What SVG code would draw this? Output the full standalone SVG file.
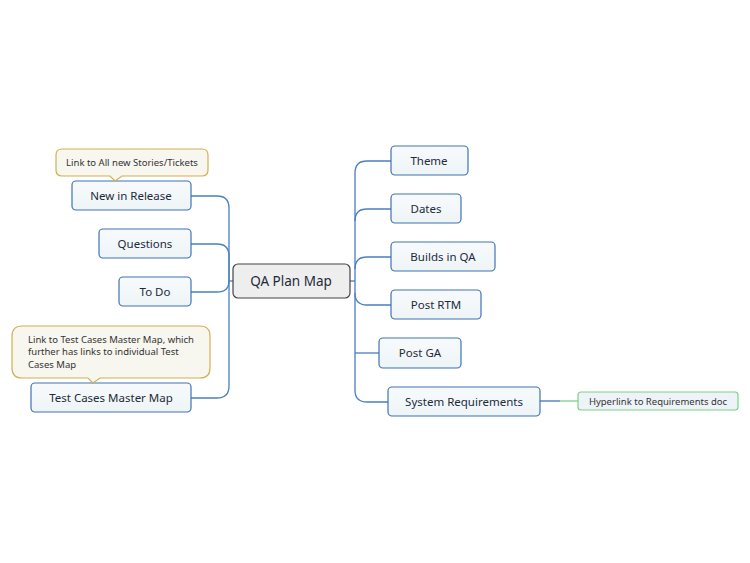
<svg xmlns="http://www.w3.org/2000/svg" width="750" height="563" viewBox="0 0 750 563">
<defs><linearGradient id="g" x1="0" y1="0" x2="0" y2="1"><stop offset="0" stop-color="#f7fafc"/><stop offset="1" stop-color="#eef5f7"/></linearGradient></defs>
<style>
.n{fill:url(#g);stroke:#3e73b5;stroke-width:1.2}
.t{font-family:"Noto Sans","Open Sans",sans-serif;font-size:11.5px;fill:#1d2a3a;text-anchor:middle}
.c{fill:none;stroke:#4a7fc0;stroke-width:1.3}
.co{fill:#f7f6ef;stroke:#d2b050;stroke-width:1.2}
.ct{font-family:"Noto Sans","Open Sans",sans-serif;font-size:9.5px;fill:#333}
</style>
<rect width="750" height="563" fill="#fff"/>
<g id="connectors">
<path class="c" d="M191 196 H217 Q229 196 229 208 V386 Q229 398 217 398 H191"/>
<path class="c" d="M191 244 H217 Q229 244 229 256 V281"/>
<path class="c" d="M191 292 H217 Q229 292 229 281"/>
<path class="c" d="M229 281 H233"/>
<path class="c" d="M391 161 H367 Q355 161 355 173 V390 Q355 402 367 402 H388"/>
<path class="c" d="M391 209 H367 Q355 209 355 221"/>
<path class="c" d="M391 257 H367 Q355 257 355 269"/>
<path class="c" d="M391 305 H367 Q355 305 355 293"/>
<path class="c" d="M379 353 H355"/>
<path class="c" d="M350 281 H355"/>
<path d="M540 401 H560" stroke="#3e73b5" stroke-width="1.3"/>
<path d="M560 401 H578" stroke="#7ccf8f" stroke-width="1.3"/>
</g>
<g id="center"><rect x="233" y="264" width="117" height="34" rx="5" fill="#eeeeee" stroke="#444" stroke-width="1.2"/><text x="291" y="286" class="t" style="font-size:13.5px">QA Plan Map</text></g>
<g id="n1"><rect class="n" x="72" y="181" width="119" height="29" rx="4"/><text class="t" x="131" y="200">New in Release</text></g>
<g id="n2"><rect class="n" x="99" y="229" width="92" height="29" rx="4"/><text class="t" x="145" y="248">Questions</text></g>
<g id="n3"><rect class="n" x="119" y="277" width="72" height="29" rx="4"/><text class="t" x="155" y="296">To Do</text></g>
<g id="n4"><rect class="n" x="31" y="383" width="160" height="29" rx="4"/><text class="t" x="111" y="402">Test Cases Master Map</text></g>
<g id="r1"><rect class="n" x="391" y="146" width="77" height="29" rx="4"/><text class="t" x="429" y="165">Theme</text></g>
<g id="r2"><rect class="n" x="391" y="194" width="70" height="29" rx="4"/><text class="t" x="426" y="213">Dates</text></g>
<g id="r3"><rect class="n" x="391" y="242" width="104" height="29" rx="4"/><text class="t" x="443" y="261">Builds in QA</text></g>
<g id="r4"><rect class="n" x="391" y="290" width="90" height="29" rx="4"/><text class="t" x="436" y="309">Post RTM</text></g>
<g id="r5"><rect class="n" x="379" y="338" width="82" height="30" rx="4"/><text class="t" x="420" y="357">Post GA</text></g>
<g id="r6"><rect class="n" x="388" y="387" width="152" height="29" rx="4"/><text class="t" x="464" y="406">System Requirements</text></g>
<g id="hl"><rect x="578" y="392" width="160" height="18" rx="3" fill="#eef3f7" stroke="#7ccf8f" stroke-width="1.2"/><text class="ct" x="658" y="405" text-anchor="middle">Hyperlink to Requirements doc</text></g>
<g id="callout1"><path class="co" d="M62 149 H202 Q208 149 208 155 V170 Q208 176 202 176 H122 L115 181 L110 176 H62 Q56 176 56 170 V155 Q56 149 62 149 Z"/><text class="ct" x="132" y="166" text-anchor="middle">Link to All new Stories/Tickets</text></g>
<g id="callout2"><path class="co" d="M22 326 H200 Q210 326 210 336 V368 Q210 378 200 378 H100 L93 383 L88 378 H22 Q12 378 12 368 V336 Q12 326 22 326 Z"/><text class="ct" x="28" y="343">Link to Test Cases Master Map, which</text><text class="ct" x="28" y="355">further has links to individual Test</text><text class="ct" x="28" y="368">Cases Map</text></g>
</svg>
